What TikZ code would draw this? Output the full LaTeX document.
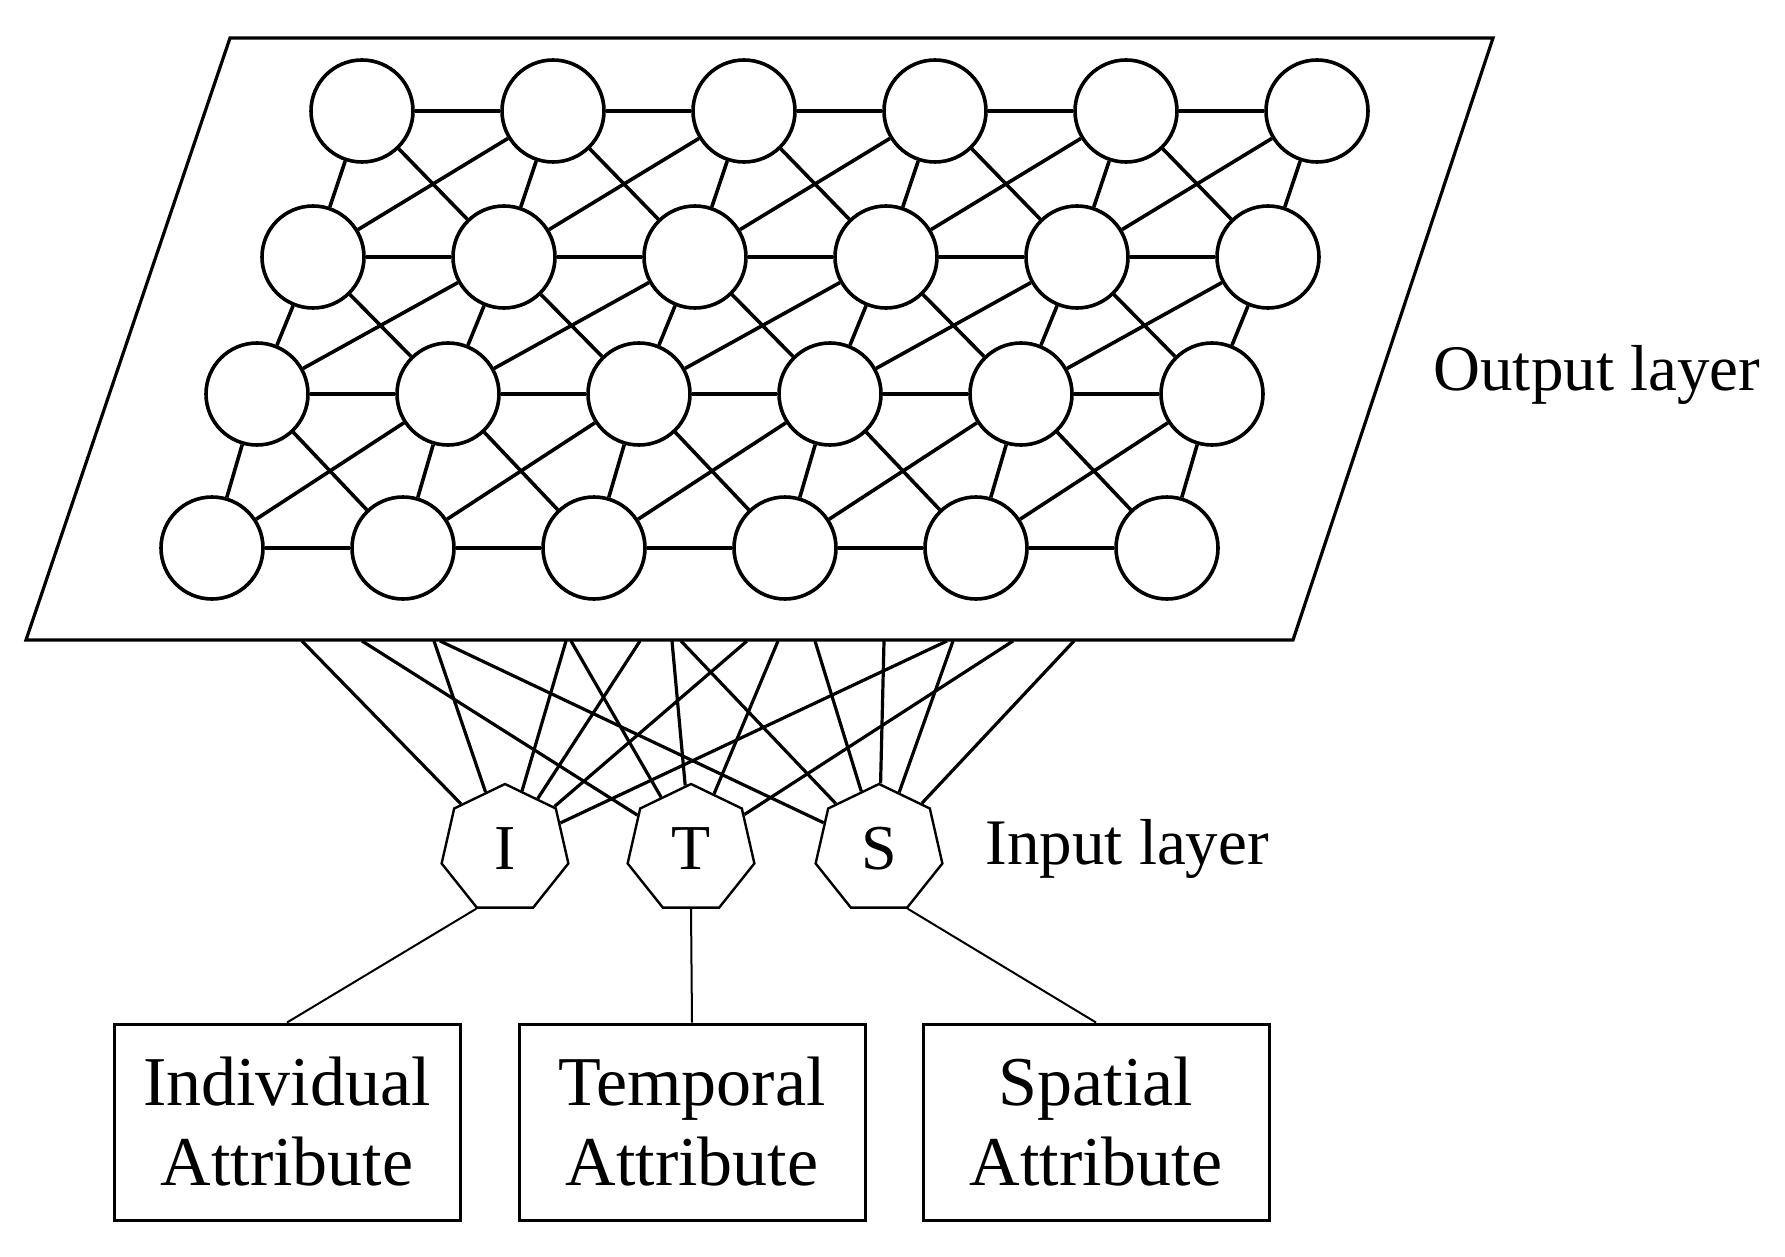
\documentclass[tikz,border=0pt]{standalone}
\usepackage{fontspec}
\setmainfont{Liberation Serif}
\usetikzlibrary{shapes.geometric}
\begin{document}
\begin{tikzpicture}[x=1pt,y=-1pt,
  neuron/.style={circle,draw,line width=3.6pt,minimum size=102pt,inner sep=0pt,fill=white},
  link/.style={line width=3.6pt},
  inlink/.style={line width=3.2pt},
  hept/.style={regular polygon,regular polygon sides=7,draw,line width=2.4pt,minimum size=130pt,inner sep=0pt,fill=white,font=\fontsize{64}{66}\selectfont},
  box/.style={draw,line width=3pt,minimum width=346pt,minimum height=196pt,align=center,font=\fontsize{70}{80}\selectfont},
  lab/.style={font=\fontsize{65}{66}\selectfont,anchor=west}]
\useasboundingbox (0,0) rectangle (1785,1257);
% plane
\draw[line width=3.2pt] (230,38) coordinate (p1) -- (1493,38) coordinate (p2) -- (1293,640) coordinate (p3) -- (26,640) coordinate (p4) -- cycle;
% neurons
\foreach \r/\xo/\yy in {1/362/111,2/313/257,3/257/394,4/212/548}{
  \foreach \c in {1,...,6}{
    \node[neuron] (n-\r-\c) at ({\xo+191*(\c-1)},\yy) {};
  }
}
\foreach \r in {1,2,3,4}{\foreach \c [evaluate=\c as \d using int(\c+1)] in {1,...,5}{\draw[link] (n-\r-\c) -- (n-\r-\d);}}
\foreach \r [evaluate=\r as \s using int(\r+1)] in {1,2,3}{
  \foreach \c in {1,...,6}{\draw[link] (n-\r-\c) -- (n-\s-\c);}
  \foreach \c [evaluate=\c as \d using int(\c+1)] in {1,...,5}{
    \draw[link] (n-\r-\c) -- (n-\s-\d);
    \draw[link] (n-\r-\d) -- (n-\s-\c);}
}
% inputs
\node[hept] (I) at (505,849) {I};
\node[hept] (T) at (691,849) {T};
\node[hept] (S) at (879,849) {S};
\foreach \n/\x in {a/302,b/362,c/434,d/440,e/566,f/571,g/640,h/672,i/681,j/747,k/778,l/815,m/884,o/947,q/953,u/1013,v/1074}{
  \coordinate (b\n) at (\x,641);
}
\foreach \p/\t in {a/I,c/I,e/I,g/I,j/I,o/I,b/T,f/T,h/T,k/T,u/T,d/S,i/S,l/S,m/S,q/S,v/S}{
  \draw[inlink] (b\p) -- (\t);
}
\node[lab] at (1430,375) {Output layer};
\node[lab] at (982,849) {Input layer};
% boxes
\node[box] (bI) at (287,1122) {Individual\\Attribute};
\node[box] (bT) at (692,1122) {Temporal\\Attribute};
\node[box] (bS) at (1096,1122) {Spatial\\Attribute};
\draw[line width=2pt] (I.corner 4) -- (bI.north);
\draw[line width=2pt] (T.south) -- (bT.north);
\draw[line width=2pt] (S.corner 5) -- (bS.north);
\end{tikzpicture}
\end{document}
